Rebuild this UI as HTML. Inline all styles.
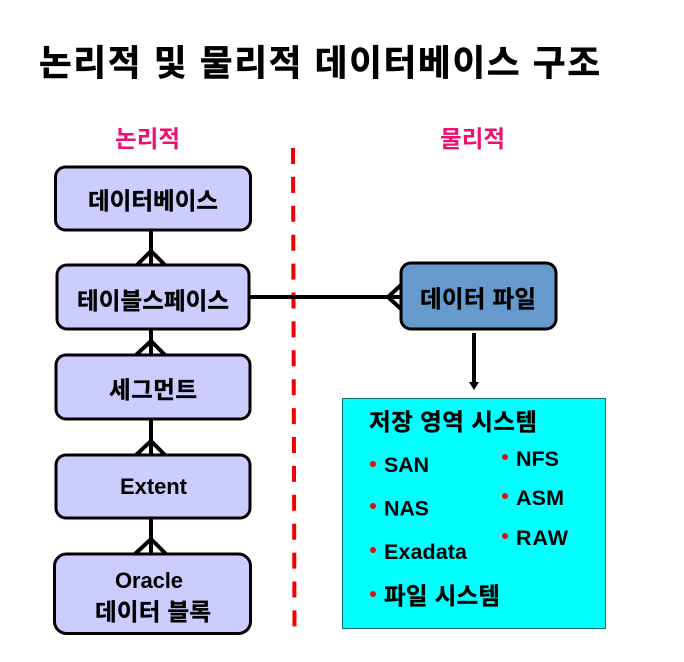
<!DOCTYPE html>
<html lang="ko">
<head>
<meta charset="utf-8">
<style>
html,body{margin:0;padding:0;background:#fff;width:684px;height:662px;overflow:hidden}
svg{display:block}
text{font-family:"Liberation Sans","Noto Sans CJK KR","NanumGothic",sans-serif;font-weight:700;fill:#000}
.k{stroke:#000;stroke-width:.35px}
</style>
</head>
<body>
<svg width="684" height="662" viewBox="0 0 684 662" xmlns="http://www.w3.org/2000/svg">
<rect width="684" height="662" fill="#fff"/>
<text class="k" x="39" y="75" font-size="35.500" textLength="561" lengthAdjust="spacing" style="stroke-width:.6px">논리적 및 물리적 데이터베이스 구조</text>
<text x="115" y="147" font-size="23.500" style="fill:#ee0f72" textLength="65">논리적</text>
<text x="440" y="147" font-size="23.500" style="fill:#ee0f72" textLength="65">물리적</text>

<line x1="293" y1="148" x2="294.500" y2="628" stroke="#f00000" stroke-width="4" stroke-dasharray="16 12.900"/>

<g stroke="#000" stroke-width="4" fill="none">
<path d="M151 230V265M137 265L151 251L165 265M151 329V355M136 355L151 341L165 355M151 419V455M136 455L151 441L165 455M151 518V554M135 554L151 539L166 554"/>
<path d="M250 297H401M401 285L388 297L401 309"/>
</g>
<g stroke="#000" stroke-width="3" fill="#ccccff">
<rect x="55.5" y="167" width="195" height="63" rx="10"/>
<rect x="57" y="265" width="192" height="64" rx="10"/>
<rect x="56" y="355" width="194" height="64" rx="10"/>
<rect x="56" y="455" width="194" height="63" rx="10"/>
<rect x="54.5" y="554" width="196" height="79.5" rx="12"/>
<rect x="401" y="263" width="155" height="66" rx="10" fill="#6699cc"/>
</g>
<rect x="342.500" y="398.500" width="263" height="230" fill="#00ffff" stroke="#0d6d6d" stroke-width="1"/>
<path d="M474 333V383" stroke="#000" stroke-width="4"/>
<path d="M469 382H479L474 390Z" fill="#000"/>

<g font-size="23.500">
<text class="k" x="88" y="209" textLength="130">데이터베이스</text>
<text class="k" x="77" y="309" textLength="152">테이블스페이스</text>
<text class="k" x="109" y="398" textLength="88">세그먼트</text>
<text x="120" y="494" font-size="22" textLength="67">Extent</text>
<text x="115" y="588" font-size="22" textLength="68">Oracle</text>
<text class="k" x="95" y="620" textLength="116">데이터 블록</text>
<text class="k" x="420" y="307" textLength="116">데이터 파일</text>
<text class="k" x="369" y="430" textLength="168">저장 영역 시스템</text>
<text x="384" y="472" font-size="21.500" textLength="45">SAN</text>
<text x="384" y="515.500" font-size="21.500" textLength="45">NAS</text>
<text x="384" y="559" font-size="21.500" textLength="83">Exadata</text>
<text class="k" x="384" y="604" textLength="116">파일 시스템</text>
<text x="516" y="466" font-size="21.500" textLength="43">NFS</text>
<text x="516" y="505" font-size="21.500" textLength="48">ASM</text>
<text x="516" y="545" font-size="21.500" textLength="52">RAW</text>
</g>
<g fill="#e01010">
<circle cx="373" cy="464" r="3"/>
<circle cx="373" cy="506" r="3"/>
<circle cx="373" cy="550" r="3"/>
<circle cx="373" cy="594" r="3"/>
<circle cx="505" cy="457" r="3"/>
<circle cx="505" cy="496" r="3"/>
<circle cx="505" cy="536" r="3"/>
</g>
</svg>
</body>
</html>
